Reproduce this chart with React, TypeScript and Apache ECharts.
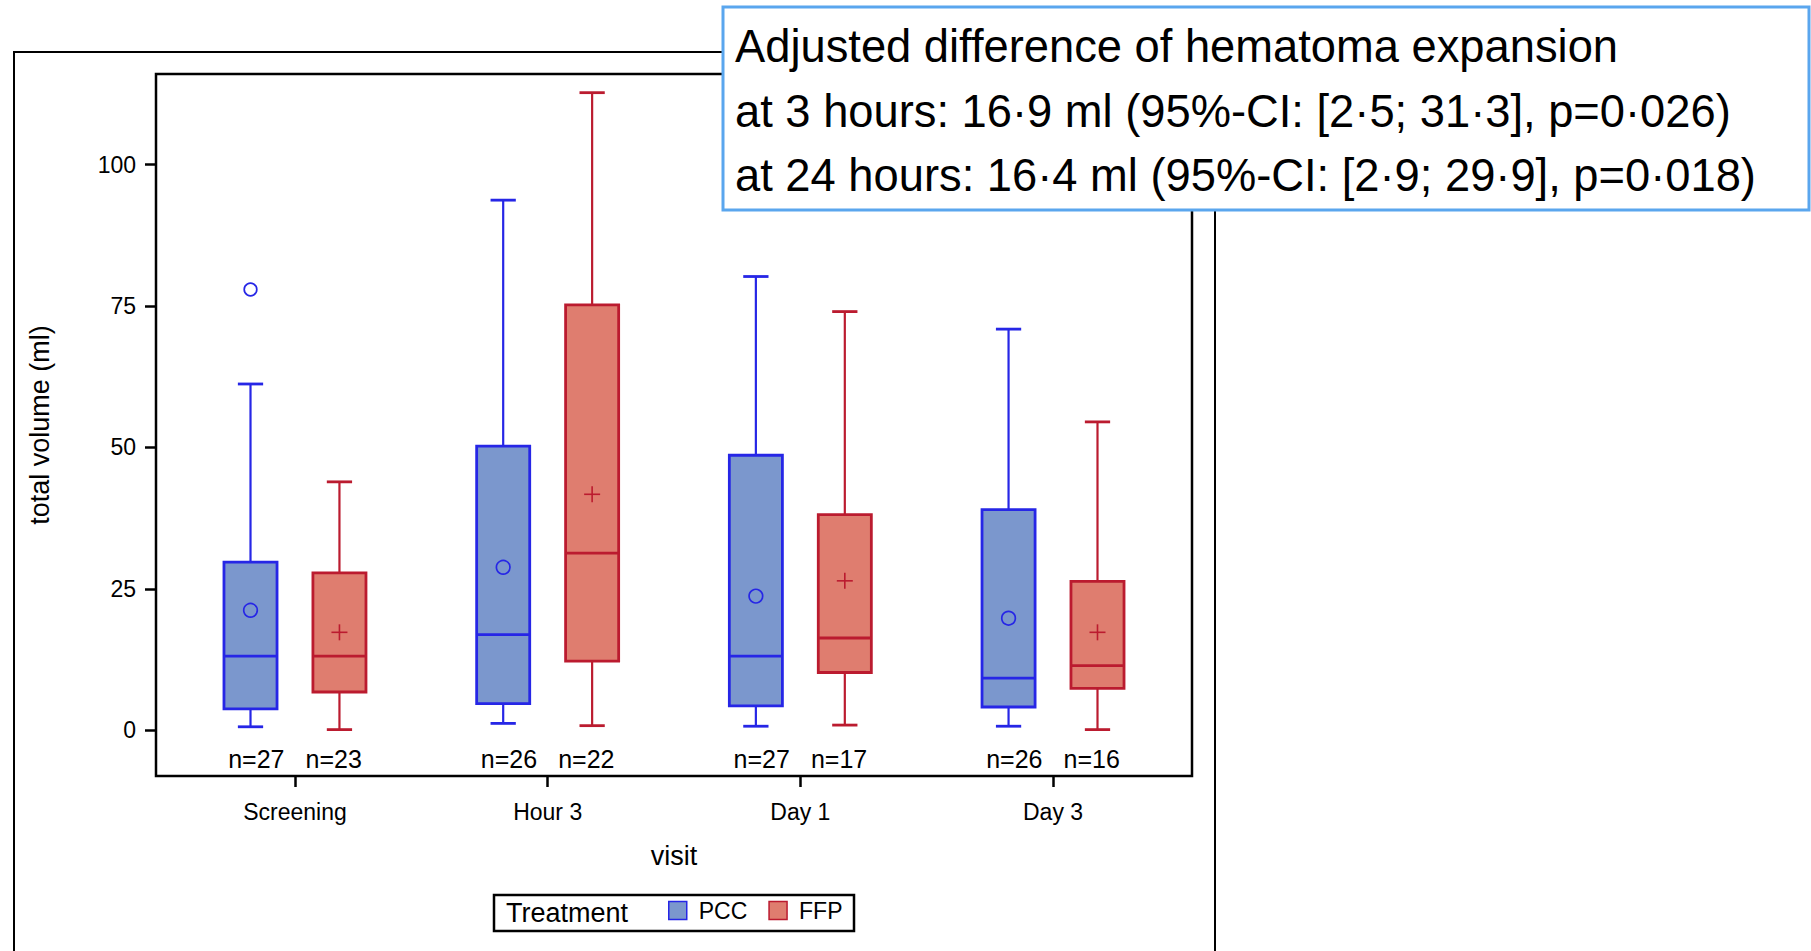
import React, { useEffect, useRef } from "react";
import * as echarts from "echarts";

const categories = ["Screening", "Hour 3", "Day 1", "Day 3"];
const treatments = ["PCC", "FFP"];

const pccLow = [0.6, 1.2, 0.7, 0.7];
const pccQ1 = [3.75, 4.7, 4.3, 4.1];
const pccMedian = [13.1, 16.9, 13.1, 9.2];
const pccQ3 = [29.7, 50.2, 48.6, 39.0];
const pccHigh = [61.2, 93.7, 80.2, 70.9];
const pccMean = [21.2, 28.8, 23.7, 19.8];
const pccN = [27, 26, 27, 26];
const pccOutliers = [[0, 77.9]];

const ffpLow = [0.1, 0.8, 0.9, 0.1];
const ffpQ1 = [6.75, 12.2, 10.2, 7.4];
const ffpMedian = [13.1, 31.3, 16.3, 11.4];
const ffpQ3 = [27.8, 75.2, 38.1, 26.3];
const ffpHigh = [43.9, 112.7, 74.0, 54.5];
const ffpMean = [17.3, 41.7, 26.4, 17.3];
const ffpN = [23, 22, 17, 16];

const yTicks = [0, 25, 50, 75, 100];
const xTicks = [0, 1, 2, 3];

const titleLines = [
  "Adjusted difference of hematoma expansion",
  "at 3 hours: 16·9 ml (95%-CI: [2·5; 31·3], p=0·026)",
  "at 24 hours: 16·4 ml (95%-CI: [2·9; 29·9], p=0·018)",
];

const FONT = "'Liberation Sans', Arial, Helvetica, sans-serif";
const PCC_FILL = "#7b97cd";
const PCC_STROKE = "#2626e6";
const FFP_FILL = "#df7d6f";
const FFP_STROKE = "#bb1b2f";

function buildData(low, q1, med, q3, high, mean, n) {
  return categories.map((_, i) => [i, low[i], q1[i], med[i], q3[i], high[i], mean[i], n[i]]);
}

function makeRenderer(offset, fill, stroke, meanShape) {
  return (params, api) => {
    const cx0 = api.value(0) + offset;
    const unit = api.size([1, 0])[0];
    const hw = 0.105 * unit;
    const cap = 0.05 * unit;
    const cx = api.coord([cx0, 0])[0];
    const y = (v) => api.coord([cx0, v])[1];
    const yLow = y(api.value(1));
    const yQ1 = y(api.value(2));
    const yMed = y(api.value(3));
    const yQ3 = y(api.value(4));
    const yHigh = y(api.value(5));
    const yMean = y(api.value(6));
    const n = api.value(7);
    const y0 = y(0);
    const labelX = api.coord([api.value(0) + offset * 0.87, 0])[0];
    const wl = { stroke, lineWidth: 2.2 };
    const children = [
      { type: "line", shape: { x1: cx, y1: yQ3, x2: cx, y2: yHigh }, style: wl },
      { type: "line", shape: { x1: cx - cap, y1: yHigh, x2: cx + cap, y2: yHigh }, style: { stroke, lineWidth: 2.8 } },
      { type: "line", shape: { x1: cx, y1: yQ1, x2: cx, y2: yLow }, style: wl },
      { type: "line", shape: { x1: cx - cap, y1: yLow, x2: cx + cap, y2: yLow }, style: { stroke, lineWidth: 2.8 } },
      {
        type: "rect",
        shape: { x: cx - hw, y: yQ3, width: hw * 2, height: yQ1 - yQ3 },
        style: { fill, stroke, lineWidth: 2.8 },
      },
      { type: "line", shape: { x1: cx - hw, y1: yMed, x2: cx + hw, y2: yMed }, style: { stroke, lineWidth: 2.8 } },
    ];
    if (meanShape === "circle") {
      children.push({ type: "circle", shape: { cx, cy: yMean, r: 6.8 }, style: { fill: "none", stroke, lineWidth: 1.7 } });
    } else {
      children.push({ type: "line", shape: { x1: cx - 8, y1: yMean, x2: cx + 8, y2: yMean }, style: { stroke, lineWidth: 1.6 } });
      children.push({ type: "line", shape: { x1: cx, y1: yMean - 8, x2: cx, y2: yMean + 8 }, style: { stroke, lineWidth: 1.6 } });
    }
    children.push({
      type: "text",
      x: labelX,
      y: y0 + 29,
      style: { text: "n=" + n, fill: "#000", fontSize: 25, fontFamily: FONT, align: "center", verticalAlign: "middle" },
    });
    return { type: "group", children };
  };
}

export default function App() {
  const ref = useRef(null);
  useEffect(() => {
    const chart = echarts.init(ref.current, null, { renderer: "svg" });
    const option = {
      animation: false,
      backgroundColor: "#fff",
      textStyle: { fontFamily: FONT },
      grid: {
        left: 156,
        top: 74,
        width: 1036,
        height: 702,
        show: true,
        borderColor: "#000",
        borderWidth: 2.5,
        backgroundColor: "transparent",
        containLabel: false,
      },
      xAxis: {
        type: "value",
        min: -0.55,
        max: 3.55,
        name: "visit",
        nameLocation: "middle",
        nameGap: 66,
        nameTextStyle: { fontSize: 27, color: "#000", fontFamily: FONT },
        axisLine: { show: false, onZero: false },
        splitLine: { show: false },
        axisTick: { show: true, length: 11, lineStyle: { color: "#000", width: 2.5 }, customValues: xTicks },
        axisLabel: {
          customValues: xTicks,
          fontSize: 23,
          color: "#000",
          margin: 24,
          fontFamily: FONT,
          formatter: (v) => categories[Math.round(v)] ?? "",
        },
      },
      yAxis: {
        type: "value",
        min: -8.1,
        max: 116,
        name: "total volume (ml)",
        nameLocation: "middle",
        nameGap: 103,
        nameRotate: 90,
        nameTextStyle: { fontSize: 27, color: "#000", fontFamily: FONT },
        axisLine: { show: false, onZero: false },
        splitLine: { show: false },
        axisTick: { show: true, length: 11, lineStyle: { color: "#000", width: 2.5 }, customValues: yTicks },
        axisLabel: { customValues: yTicks, fontSize: 23, color: "#000", margin: 20, fontFamily: FONT },
      },
      legend: {
        show: true,
        left: 668,
        top: 899,
        padding: 0,
        itemWidth: 18,
        itemHeight: 18,
        itemGap: 21,
        textStyle: { fontSize: 23, color: "#000", fontFamily: FONT, padding: [0, 0, 0, 7] },
        data: [
          { name: "PCC", icon: "rect", itemStyle: { color: PCC_FILL, borderColor: PCC_STROKE, borderWidth: 1.5 } },
          { name: "FFP", icon: "rect", itemStyle: { color: FFP_FILL, borderColor: FFP_STROKE, borderWidth: 1.5 } },
        ],
      },
      graphic: [
        {
          type: "rect",
          z: 1,
          shape: { x: 14, y: 52, width: 1201, height: 960 },
          style: { fill: "none", stroke: "#000", lineWidth: 2 },
        },
        {
          type: "rect",
          z: 1,
          shape: { x: 494, y: 895, width: 360, height: 36 },
          style: { fill: "none", stroke: "#000", lineWidth: 2.5 },
        },
        {
          type: "text",
          z: 2,
          x: 506,
          y: 913,
          style: { text: "Treatment", fontSize: 27, fill: "#000", fontFamily: FONT, verticalAlign: "middle" },
        },
        {
          type: "rect",
          z: 100,
          shape: { x: 723, y: 7, width: 1086, height: 203 },
          style: { fill: "#fff", stroke: "#5aa6ee", lineWidth: 3 },
        },
        ...titleLines.map((t, i) => ({
          type: "text",
          z: 101,
          x: 735,
          y: [46, 111, 175][i],
          style: { text: t, fontSize: 45.3, fill: "#000", fontFamily: FONT, verticalAlign: "middle" },
        })),
      ],
      series: [
        {
          name: "PCC",
          type: "custom",
          itemStyle: { color: PCC_FILL, borderColor: PCC_STROKE },
          renderItem: makeRenderer(-0.176, PCC_FILL, PCC_STROKE, "circle"),
          encode: { x: 0, y: [1, 2, 3, 4, 5] },
          data: buildData(pccLow, pccQ1, pccMedian, pccQ3, pccHigh, pccMean, pccN),
          clip: false,
        },
        {
          name: "FFP",
          type: "custom",
          itemStyle: { color: FFP_FILL, borderColor: FFP_STROKE },
          renderItem: makeRenderer(0.176, FFP_FILL, FFP_STROKE, "plus"),
          encode: { x: 0, y: [1, 2, 3, 4, 5] },
          data: buildData(ffpLow, ffpQ1, ffpMedian, ffpQ3, ffpHigh, ffpMean, ffpN),
          clip: false,
        },
        {
          name: "PCC outliers",
          type: "custom",
          renderItem: (params, api) => {
            const c = api.coord([api.value(0) - 0.176, api.value(1)]);
            return { type: "circle", shape: { cx: c[0], cy: c[1], r: 6.3 }, style: { fill: "none", stroke: PCC_STROKE, lineWidth: 1.7 } };
          },
          encode: { x: 0, y: 1 },
          data: pccOutliers,
        },
      ],
    };
    chart.setOption(option);
    return () => chart.dispose();
  }, []);
  return (
    <div
      ref={ref}
      style={{ position: "absolute", left: 0, top: 0, width: 1811, height: 951, background: "#fff" }}
    />
  );
}
